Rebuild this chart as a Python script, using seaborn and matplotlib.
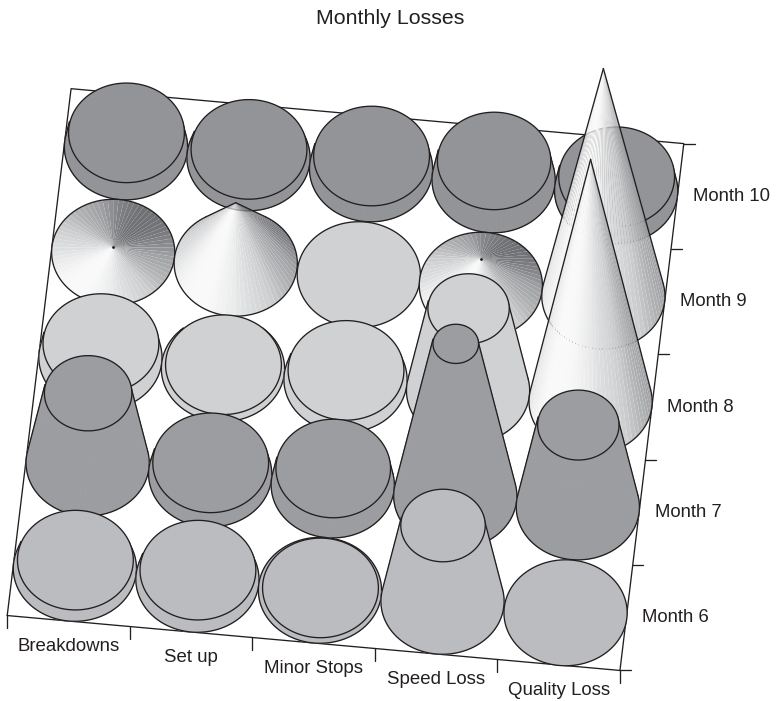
import numpy as np
import matplotlib
matplotlib.use("Agg")
import matplotlib.pyplot as plt
from mpl_toolkits.mplot3d.art3d import Poly3DCollection
from mpl_toolkits.mplot3d import proj3d
import seaborn as sns

# Loss categories and months, front row first
categories = ["Breakdowns", "Set up", "Minor Stops", "Speed Loss", "Quality Loss"]
months = ["Month 6", "Month 7", "Month 8", "Month 9", "Month 10"]

# Losses per month, percent of the vertical scale
month_6 = [3.6, 4, 1.2, 31.5, 0]
month_7 = [29, 4.8, 7, 63, 34]
month_8 = [6, 1.8, 4, 34, 100]
month_9 = [2, 25, 0, 11, 94]
month_10 = [6, 3.7, 5.5, 8, 6]
losses = [month_6, month_7, month_8, month_9, month_10]

row_colors = ["#bbbcc0", "#9c9da0", "#d0d1d3", "#d0d1d3", "#939497"]
pointed_rows = ["Month 9"]

INK = "#231f20"
LW = 0.95
FIG_W, FIG_H = 776, 701
ELEV, AZIM = 59.3, -84.05
RADIUS = 0.5
Z_MAX = 100.0
MIN_TAPER = 6.0
BOX_Z = 3.85
Z_UNIT = BOX_Z / Z_MAX
N_FACETS = 72
LIGHT_ANGLE = np.deg2rad(235)

sns.set_theme(style="white")
plt.rcParams["font.family"] = ["Liberation Sans", "DejaVu Sans"]
shade_ramp = sns.blend_palette(
    ["#707175", "#9fa0a3", "#b2b3b5", "#cdced0", "#dddedf", "#fafafa"], 128)

fig = plt.figure(figsize=(FIG_W / 100, FIG_H / 100), dpi=100, facecolor="white")
SIZE = 1000
ANCHOR = 0.5135
ax = fig.add_axes([(345.5 - ANCHOR * SIZE) / FIG_W,
                   (FIG_H - 258.5 - ANCHOR * SIZE) / FIG_H,
                   SIZE / FIG_W, SIZE / FIG_H], projection="3d")
ax.set_proj_type("ortho")
ax.view_init(elev=ELEV, azim=AZIM, roll=0)
ax.set_xlim(0, 5, view_margin=0)
ax.set_ylim(0, 5, view_margin=0)
ax.set_zlim(0, Z_MAX, view_margin=0)
ax.set_box_aspect((5, 5, BOX_Z), zoom=0.963)
ax.set_xticks([])
ax.set_yticks([])
ax.set_zticks([])
ax.set_axis_off()
ax.computed_zorder = False
ax.patch.set_alpha(0)

a = np.deg2rad(AZIM)
e = np.deg2rad(ELEV)
right = np.array([np.cos(np.deg2rad(AZIM + 90)), np.sin(np.deg2rad(AZIM + 90))])


def line(xs, ys, zs, zorder):
    ax.plot(xs, ys, zs, color=INK, lw=LW, zorder=zorder,
            solid_capstyle="round", solid_joinstyle="round", clip_on=False)


def disc(cx, cy, z, r, color, zorder):
    t = np.linspace(0, 2 * np.pi, 181)[:-1]
    pts = np.column_stack([cx + r * np.cos(t), cy + r * np.sin(t), np.full_like(t, z)])
    ax.add_collection3d(Poly3DCollection([pts], facecolors=color, edgecolors=INK,
                                         linewidths=LW, zorder=zorder))


def draw_bar(cx, cy, value, color, pointed, zorder):
    if value <= 0:
        disc(cx, cy, 0, RADIUS, color, zorder)
        return
    pointed = pointed or value >= Z_MAX
    top_r = 0.0 if pointed else RADIUS * (1 - max(value, MIN_TAPER) / Z_MAX)
    h = value * Z_UNIT
    k = (RADIUS - top_r) * np.tan(e) / h
    half = np.pi if k >= 1 else np.arccos(-k)

    # side surface: only the part turned towards the viewer
    edges = np.linspace(a - half, a + half, int(N_FACETS * half / np.pi) + 1)
    faces, shades = [], []
    for t0, t1 in zip(edges[:-1], edges[1:]):
        faces.append([
            (cx + RADIUS * np.cos(t0), cy + RADIUS * np.sin(t0), 0),
            (cx + RADIUS * np.cos(t1), cy + RADIUS * np.sin(t1), 0),
            (cx + top_r * np.cos(t1), cy + top_r * np.sin(t1), value),
            (cx + top_r * np.cos(t0), cy + top_r * np.sin(t0), value),
        ])
        mid = 0.5 * (t0 + t1)
        idx = int(0.5 * (1 + np.cos(mid - LIGHT_ANGLE)) * (len(shade_ramp) - 1))
        shades.append(shade_ramp[idx])
    if pointed:
        side = Poly3DCollection(faces, facecolors=shades, edgecolors="none",
                                linewidths=0, zorder=zorder)
    else:
        side = Poly3DCollection(faces, facecolors=color, edgecolors=color,
                                linewidths=0.6, zorder=zorder)
    ax.add_collection3d(side)

    # outline: lower rim and the two silhouette lines
    t = np.linspace(a - half, a + half, 181)
    line(cx + RADIUS * np.cos(t), cy + RADIUS * np.sin(t), np.zeros_like(t), zorder + 0.1)
    if half < np.pi:
        for s in (a - half, a + half):
            line([cx + RADIUS * np.cos(s), cx + top_r * np.cos(s)],
                 [cy + RADIUS * np.sin(s), cy + top_r * np.sin(s)],
                 [0, value], zorder + 0.1)
    elif pointed:
        ax.plot([cx], [cy], [value], marker="o", ms=1.0, color=INK, zorder=zorder + 0.1)
    if top_r > 0:
        disc(cx, cy, value, top_r, color, zorder + 0.2)


def to_view(x, y, z):
    vx, vy, _ = proj3d.proj_transform(x, y, z, ax.get_proj())
    return vx, vy


# Floor frame and tick marks
TICK_DOWN = -12.5 / (123.3 * np.cos(e)) / Z_UNIT
TICK_RIGHT = 10.7 / 123.3
line([0, 5, 5, 0, 0], [0, 0, 5, 5, 0], [0, 0, 0, 0, 0], 1)
for i in range(6):
    line([i, i], [0, 0], [0, TICK_DOWN], 1)
    line([5, 5 + TICK_RIGHT * right[0]], [i, i + TICK_RIGHT * right[1]], [0, 0], 1)

# Bars are painted from the back row forwards
order = 10
for j in range(len(months) - 1, -1, -1):
    for i, value in enumerate(losses[j]):
        draw_bar(i + 0.5, j + 0.5, value, row_colors[j], months[j] in pointed_rows, order)
        order += 1

# Category and month labels
LABEL_DOWN = -25.5 / (123.3 * np.cos(e)) / Z_UNIT
LABEL_RIGHT = 15.5 / 123.3
for i, name in enumerate(categories):
    vx, vy = to_view(i + 0.5, 0, LABEL_DOWN)
    ax.text2D(vx, vy, name, transform=ax.transData, ha="center", va="center",
              fontsize=13.4, color=INK, zorder=500)
for j, name in enumerate(months):
    vx, vy = to_view(5 + LABEL_RIGHT * right[0], j + 0.5 + LABEL_RIGHT * right[1], 0)
    ax.text2D(vx, vy, name, transform=ax.transData, ha="left", va="center",
              fontsize=13.3, color=INK, zorder=500)

fig.text(390 / FIG_W, 1 - 18.5 / FIG_H, "Monthly Losses", ha="center", va="center",
         fontsize=15.4, color=INK)

fig.savefig("out.png", dpi=100, facecolor="white")
